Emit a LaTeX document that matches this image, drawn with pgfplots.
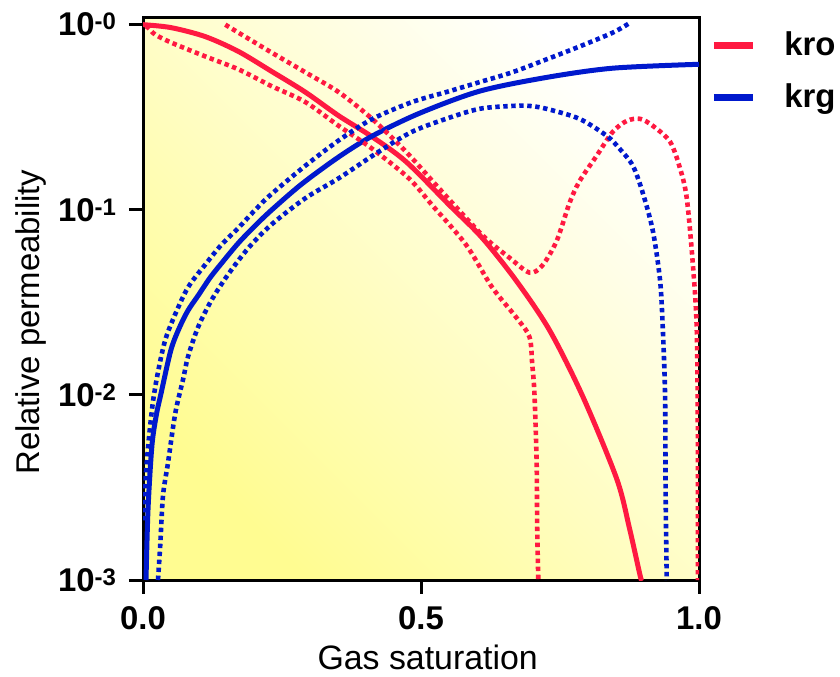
\documentclass[border=0pt]{standalone}
\usepackage{pgfplots}
\pgfplotsset{compat=1.18}
\usepackage{fontspec}
\setmainfont{Liberation Sans}
\definecolor{kred}{RGB}{255,25,65}
\definecolor{kblue}{RGB}{0,25,205}
\definecolor{bgll}{RGB}{255,252,145}
\definecolor{bgmid}{RGB}{255,255,205}
\newcommand{\tl}[1]{10\raisebox{3bp}{\fontsize{12}{12}\selectfont #1}}
\begin{document}
\begin{tikzpicture}
\path[use as bounding box] (0,0) rectangle (420bp,338.5bp);
\begin{axis}[
  at={(71.5bp,48.5bp)}, anchor=south west,
  scale only axis, width=278bp, height=281.5bp,
  xmin=0, xmax=1, ymin=1e-3, ymax=1.1, ymode=log,
  xtick={0,0.5,1}, xticklabels={0.0,0.5,1.0},
  ytick={1e-3,1e-2,1e-1,1},
  yticklabels={\tl{-3},\tl{-2},\tl{-1},\tl{-0}},
  yminorticks=false,
  xtick pos=bottom, ytick pos=left,
  tick align=outside, major tick length=7bp,
  tick style={line width=1.5bp, black},
  axis line style={line width=1.5bp},
  xticklabel style={yshift=-3bp, font=\bfseries\fontsize{16.5}{18}\selectfont},
  yticklabel style={xshift=-3bp, font=\bfseries\fontsize{16.5}{18}\selectfont},
  xlabel={Gas saturation}, ylabel={Relative permeability},
  every axis x label/.style={at={(rel axis cs:0.512,0)}, yshift=-38.5bp, anchor=center, font=\fontsize{17}{20}\selectfont},
  every axis y label/.style={at={(rel axis cs:0,0.458)}, xshift=-56bp, rotate=90, anchor=center, font=\fontsize{16.5}{20}\selectfont},
  axis background/.style={shade, bottom color=bgll, middle color=bgmid, top color=white, shading angle=-45},
  legend style={at={(1.009,0.988)}, anchor=north west, draw=none, fill=none,
    font=\bfseries\fontsize{16.5}{20}\selectfont, row sep=8.5bp,
    /tikz/every odd column/.append style={column sep=12bp}},
  legend cell align=left,
  legend image code/.code={\draw[#1, line width=3.5bp] (0bp,0bp) -- (19.5bp,0bp);},
]
% kro fitted
\addplot[kred, line width=2.5bp, smooth] coordinates {
(0,1.0)(0.0505,0.964)(0.112,0.862)(0.1715,0.717)(0.231,0.560)(0.292,0.432)(0.352,0.322)(0.412,0.248)(0.473,0.182)(0.551,0.106)(0.610,0.0705)(0.671,0.0415)(0.731,0.0224)(0.791,0.0098)(0.852,0.00352)(0.875,0.0019)(0.894,0.00106)(0.897,0.001)
};
\addlegendentry{kro}
% krg fitted
\addplot[kblue, line width=2.5bp, smooth] coordinates {
(0.0054,0.001)(0.009,0.0024)(0.016,0.0053)(0.024,0.0078)(0.0325,0.0102)(0.05,0.0174)(0.065,0.0229)(0.081,0.0286)(0.1,0.0347)(0.12,0.0427)(0.141,0.0513)(0.1715,0.0661)(0.202,0.0822)(0.231,0.0995)(0.285,0.1374)(0.352,0.193)(0.412,0.25)(0.496,0.331)(0.605,0.437)(0.726,0.519)(0.845,0.582)(1.0,0.611)
};
\addlegendentry{krg}
% kro upper band
\addplot[kred, line width=2.3bp, dash pattern=on 2.2bp off 1.8bp, smooth, forget plot] coordinates {
(0.148,1.0)(0.1715,0.906)(0.231,0.708)(0.292,0.553)(0.352,0.432)(0.412,0.310)(0.473,0.206)(0.532,0.131)(0.610,0.0731)(0.659,0.0551)(0.695,0.0458)(0.718,0.0499)(0.744,0.0679)(0.767,0.1086)(0.785,0.1425)(0.816,0.196)(0.845,0.264)(0.870,0.302)(0.894,0.310)(0.917,0.284)(0.948,0.233)(0.966,0.167)(0.978,0.1155)(0.989,0.0506)(0.996,0.0224)(0.998,0.0053)(0.998,0.001)
};
% kro lower band
\addplot[kred, line width=2.3bp, dash pattern=on 2.2bp off 1.8bp, smooth, forget plot] coordinates {
(0.005,0.98)(0.009,0.964)(0.022,0.884)(0.0505,0.801)(0.112,0.674)(0.1715,0.574)(0.231,0.466)(0.292,0.382)(0.352,0.284)(0.412,0.214)(0.478,0.148)(0.520,0.106)(0.581,0.0647)(0.628,0.0381)(0.671,0.0263)(0.695,0.0206)(0.700,0.0147)(0.704,0.0102)(0.708,0.0043)(0.709,0.0019)(0.711,0.001)
};
% krg upper band
\addplot[kblue, line width=2.3bp, dash pattern=on 2.2bp off 1.8bp, smooth, forget plot] coordinates {
(0.002,0.0021)(0.005,0.00366)(0.011,0.00598)(0.018,0.00922)(0.027,0.0133)(0.040,0.0198)(0.058,0.0273)(0.081,0.0381)(0.112,0.0506)(0.141,0.0647)(0.1715,0.0798)(0.202,0.1)(0.231,0.1216)(0.292,0.173)(0.352,0.237)(0.412,0.309)(0.484,0.382)(0.545,0.432)(0.605,0.489)(0.664,0.553)(0.726,0.650)(0.785,0.762)(0.845,0.906)(0.875,1.02)
};
% krg lower band
\addplot[kblue, line width=2.3bp, dash pattern=on 2.2bp off 1.8bp, smooth, forget plot] coordinates {
(0.027,0.001)(0.031,0.00154)(0.036,0.00286)(0.045,0.0043)(0.058,0.00795)(0.072,0.0121)(0.081,0.0161)(0.099,0.0232)(0.123,0.0324)(0.153,0.0447)(0.190,0.0624)(0.231,0.0832)(0.292,0.1155)(0.352,0.148)(0.424,0.206)(0.484,0.264)(0.545,0.310)(0.605,0.351)(0.664,0.364)(0.695,0.364)(0.726,0.351)(0.785,0.310)(0.834,0.251)(0.857,0.214)(0.881,0.173)(0.899,0.123)(0.917,0.0769)(0.930,0.0415)(0.935,0.0224)(0.939,0.0098)(0.940,0.00286)(0.942,0.001)
};
\end{axis}
\end{tikzpicture}
\end{document}
